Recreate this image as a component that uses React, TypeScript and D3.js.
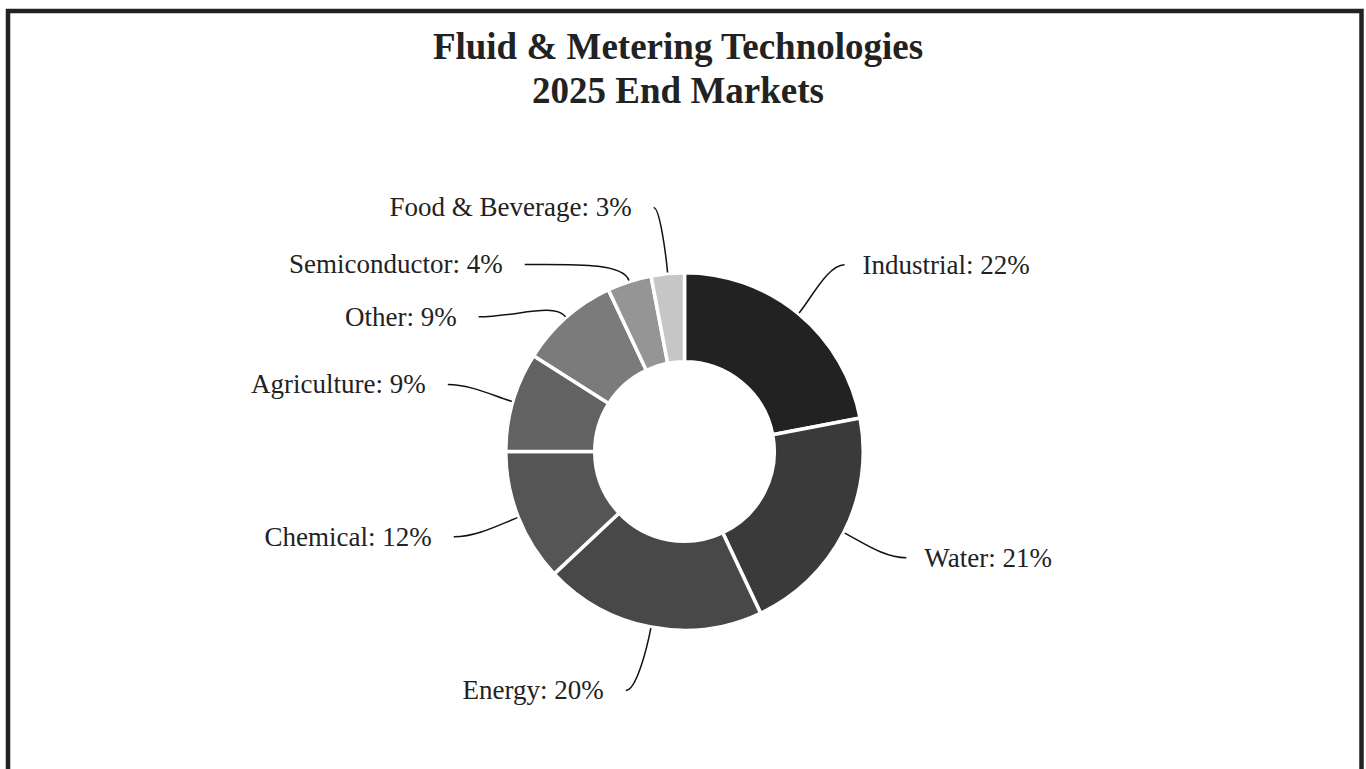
import React, { useEffect, useRef } from "react";
import * as d3 from "d3";

// end market shares, clockwise from 12 o'clock
const markets = ["Industrial", "Water", "Energy", "Chemical", "Agriculture", "Other", "Semiconductor", "Food & Beverage"];
const shares = [22, 21, 20, 12, 9, 9, 4, 3];
const shades = ["#222222", "#3a3a3a", "#484848", "#555555", "#626262", "#7b7b7b", "#959595", "#c6c6c6"];
// label spreading for the crowded top-left slices (degrees)
const labelNudge = [1, -1.4, 3, 1.3, -0.4, -15.4, -22.5, -1.8];

const titleLines = ["Fluid & Metering Technologies", "2025 End Markets"];

const App = () => {
  const svgRef = useRef<SVGSVGElement>(null);

  useEffect(() => {
    const width = 1366;
    const height = 769;
    const cx = 684.5;
    const cy = 451.5;
    const outerR = 178.75;
    const innerR = 89.75;
    const labelR = 246;
    const font = "'Liberation Serif', 'Times New Roman', serif";

    const svg = d3.select(svgRef.current);
    svg.selectAll("*").remove();
    svg.attr("width", width).attr("height", height);

    // frame
    svg
      .append("rect")
      .attr("x", 8)
      .attr("y", 11)
      .attr("width", 1353.5)
      .attr("height", 800)
      .attr("fill", "white")
      .attr("stroke", "#222")
      .attr("stroke-width", 4.5);

    // title
    svg
      .append("g")
      .selectAll("text")
      .data(titleLines)
      .enter()
      .append("text")
      .attr("x", 678)
      .attr("y", (d, i) => 59 + i * 44)
      .attr("text-anchor", "middle")
      .style("font-family", font)
      .style("font-weight", "bold")
      .style("font-size", "37px")
      .style("fill", "#222")
      .text((d) => d);

    const data = markets.map((m, i) => ({ name: m, value: shares[i], color: shades[i], nudge: labelNudge[i] }));

    const pie = d3
      .pie<any>()
      .value((d) => d.value)
      .sort(null);
    const arcs = pie(data);

    const arc = d3.arc<any>().innerRadius(innerR).outerRadius(outerR);

    const g = svg.append("g").attr("transform", `translate(${cx},${cy})`);

    g.selectAll("path.slice")
      .data(arcs)
      .enter()
      .append("path")
      .attr("class", "slice")
      .attr("d", arc)
      .attr("fill", (d) => d.data.color)
      .attr("stroke", "white")
      .attr("stroke-width", 3.5)
      .attr("stroke-linejoin", "miter");

    // leader lines + labels
    const pt = (a: number, r: number) => [Math.sin(a) * r, -Math.cos(a) * r];

    arcs.forEach((d) => {
      const mid = (d.startAngle + d.endAngle) / 2;
      const la = mid + (d.data.nudge * Math.PI) / 180;
      const [sx, sy] = pt(mid, outerR + 1);
      const [c1x, c1y] = pt(mid, outerR + 20);
      const [ex, ey] = pt(la, labelR);
      const right = ex > 0;
      const dx = Math.abs(ex - c1x);
      const c2x = ex + (right ? -1 : 1) * dx * 0.5;
      const c2y = ey;

      const path = d3.path();
      path.moveTo(sx, sy);
      path.bezierCurveTo(c1x, c1y, c2x, c2y, ex, ey);

      g.append("path")
        .attr("d", path.toString())
        .attr("fill", "none")
        .attr("stroke", "#111")
        .attr("stroke-width", 1.5);

      g.append("text")
        .attr("x", ex + (right ? 18 : -22))
        .attr("y", ey)
        .attr("dy", "0.33em")
        .attr("text-anchor", right ? "start" : "end")
        .style("font-family", font)
        .style("font-size", "27px")
        .style("fill", "#222")
        .text(`${d.data.name}: ${d.data.value}%`);
    });
  }, []);

  return <svg ref={svgRef} style={{ position: "absolute", left: 0, top: 0, display: "block" }}></svg>;
};

export default App;
